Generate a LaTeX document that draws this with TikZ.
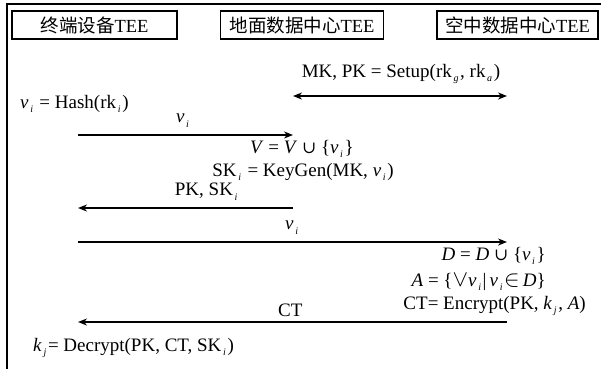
\documentclass[tikz,border=0pt]{standalone}
\usepackage{fontspec}
\usepackage{graphicx}
\setmainfont{Liberation Serif}
\newfontfamily\cjk{Noto Sans CJK SC}
\newfontfamily\symf{DejaVu Serif}
\usetikzlibrary{arrows.meta}
\newcommand{\sbi}[1]{\raisebox{-0.5ex}{\fontsize{10}{10}\selectfont\itshape\,#1\,}}
\newcommand{\vi}{\textit{v}\sbi{i}}
\newcommand{\cupsym}{{\symf\fontsize{17}{19}\selectfont ∪}}
\newcommand{\orsym}{\scalebox{1.35}{$\vee$}}
\newcommand{\insym}{\scalebox{1.35}{$\in$}}
\tikzset{
  hdr/.style={draw, line width=1.3pt, inner sep=0pt, minimum height=28pt, font=\cjk\fontsize{18.5}{20}\selectfont},
  txt/.style={inner sep=0pt, font=\fontsize{19}{21}\selectfont},
  msg/.style={line width=1.6pt, -{Stealth[length=9pt,width=7pt]}},
  msg2/.style={line width=1.6pt, {Stealth[length=9pt,width=7pt]}-{Stealth[length=9pt,width=7pt]}}
}
\begin{document}
\begin{tikzpicture}[x=1pt,y=-1pt]
\useasboundingbox (0,0) rectangle (601,369);
\draw[line width=1.6pt] (7,369) -- (7,4) -- (601,4);
\node[hdr, minimum width=165pt] (b1) at (94.5,25) {终端设备\fontspec{Liberation Serif}TEE};
\node[hdr, minimum width=163pt] (b2) at (302,25) {地面数据中心\fontspec{Liberation Serif}TEE};
\node[hdr, minimum width=161pt] (b3) at (517.5,25) {空中数据中心\fontspec{Liberation Serif}TEE};
% endpoints
\coordinate (a1) at (78,96);  \coordinate (g1) at (293,96);  \coordinate (s1) at (507,96);
\coordinate (a2) at (78,135); \coordinate (g2) at (293,135);
\coordinate (a3) at (78,208); \coordinate (g3) at (293,208);
\coordinate (a4) at (78,242); \coordinate (s4) at (507,242);
\coordinate (a5) at (78,322); \coordinate (s5) at (507,322);
\node[txt] (setup) at (401,74) {MK, PK = Setup(rk\sbi{g}, rk\sbi{a})};
\draw[msg2] (g1) -- (s1);
\node[txt, anchor=west] (hash) at (20,104) {\vi\ = Hash(rk\sbi{i})};
\draw[msg] (a2) -- (g2) node[txt, pos=0.49, above=7pt] (l1) {\vi};
\node[txt] (vv) at (302,149) {\textit{V} = \textit{V} \cupsym\ \{\vi\}};
\node[txt] (kg) at (303,172) {SK\sbi{i} = KeyGen(MK, \vi)};
\draw[msg] (g3) -- (a3) node[txt, pos=0.4, above=7pt] (l2) {PK, SK\sbi{i}};
\draw[msg] (a4) -- (s4) node[txt, pos=0.5, above=7pt] (l3) {\vi};
\node[txt, anchor=east] (dd) at (546,256) {\textit{D} = \textit{D} \cupsym\ \{\vi\}};
\node[txt, anchor=east] (aa) at (546,282) {\textit{A} = \{\orsym\vi|\,\vi\insym\,\textit{D}\}};
\node[txt, anchor=east] (ct) at (586,306) {CT= Encrypt(PK, \textit{k}\sbi{j}, \textit{A})};
\draw[msg] (s5) -- (a5) node[txt, pos=0.505, above=5pt] (l4) {CT};
\node[txt, anchor=west] (dec) at (33,348) {\textit{k}\sbi{j}= Decrypt(PK, CT, SK\sbi{i})};
\end{tikzpicture}
\end{document}
